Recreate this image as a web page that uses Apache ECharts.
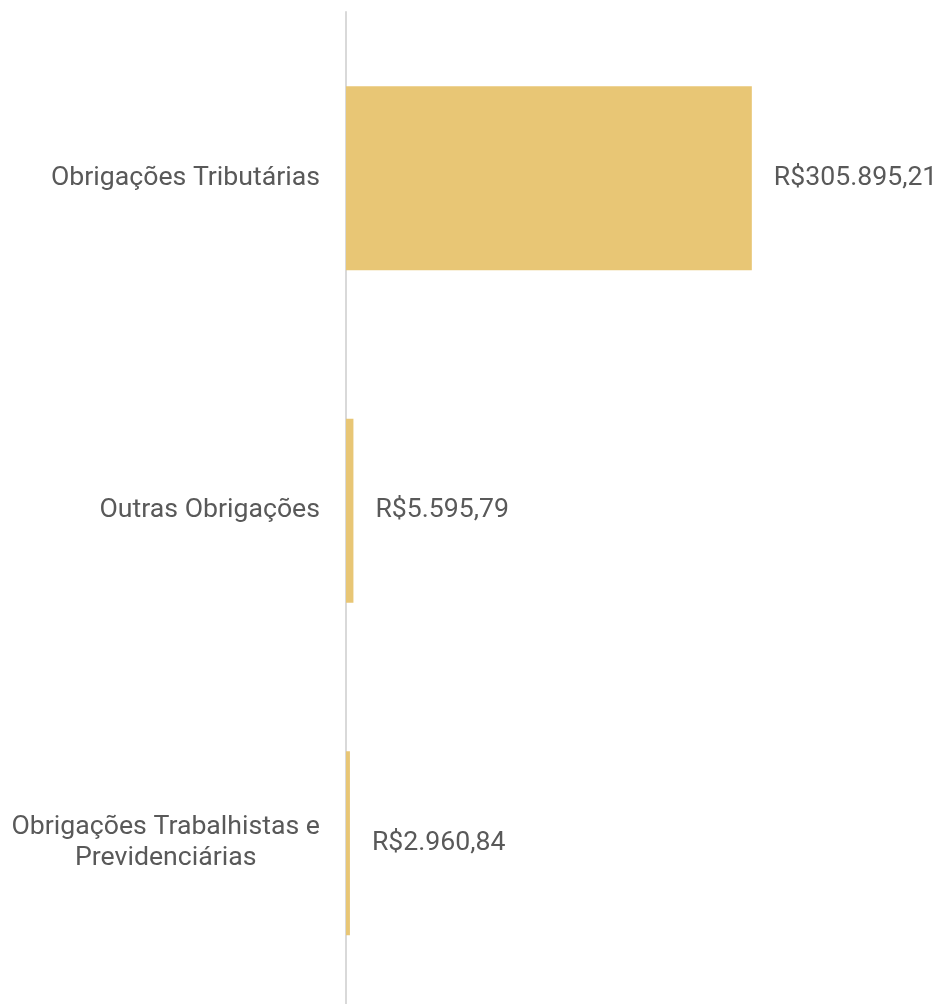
<!DOCTYPE html>
<html>
<head>
<meta charset="utf-8">
<script src="https://cdn.jsdelivr.net/npm/echarts@6/dist/echarts.min.js"></script>
<style>
  html, body { margin: 0; padding: 0; background: #fff; }
  #chart { width: 940px; height: 1004px; }
</style>
</head>
<body>
<div id="chart"></div>
<script>
const categories = ["Obrigações Tributárias", "Outras Obrigações", "Obrigações Trabalhistas e\nPrevidenciárias"];
const values = [305895.21, 5595.79, 2960.84];

// formata como moeda brasileira: R$305.895,21
function brl(v) {
  const parts = v.toFixed(2).split(".");
  const inteiro = parts[0].replace(/\B(?=(\d{3})+(?!\d))/g, ".");
  return "R$" + inteiro + "," + parts[1];
}

const chart = echarts.init(document.getElementById("chart"));
chart.setOption({
  animation: false,
  textStyle: { fontFamily: "Roboto" },
  grid: {
    left: 346,
    top: 12,
    height: 997.5,
    width: 597,
    containLabel: false,
    outerBoundsMode: "none"
  },
  xAxis: {
    type: "value",
    min: 0,
    max: 450000,
    show: false
  },
  yAxis: {
    type: "category",
    inverse: true,
    data: categories,
    axisTick: { show: false },
    axisLine: {
      lineStyle: { color: "#d9d9d9", width: 2 }
    },
    axisLabel: {
      margin: 26,
      color: "#595959",
      fontSize: 26.67,
      lineHeight: 31,
      formatter: function (v) {
        return v.split("\n").map(function (s) { return "{c|" + s + "}"; }).join("\n");
      },
      rich: {
        c: { align: "center", color: "#595959", fontSize: 26.67, lineHeight: 31, fontFamily: "Roboto" }
      }
    }
  },
  series: [{
    type: "bar",
    data: values,
    barWidth: 184,
    itemStyle: { color: "#E8C675" },
    label: {
      show: true,
      position: "right",
      distance: 22,
      color: "#595959",
      fontSize: 26.67,
      fontFamily: "Roboto",
      formatter: function (p) { return brl(p.value); }
    }
  }]
});
</script>
</body>
</html>
